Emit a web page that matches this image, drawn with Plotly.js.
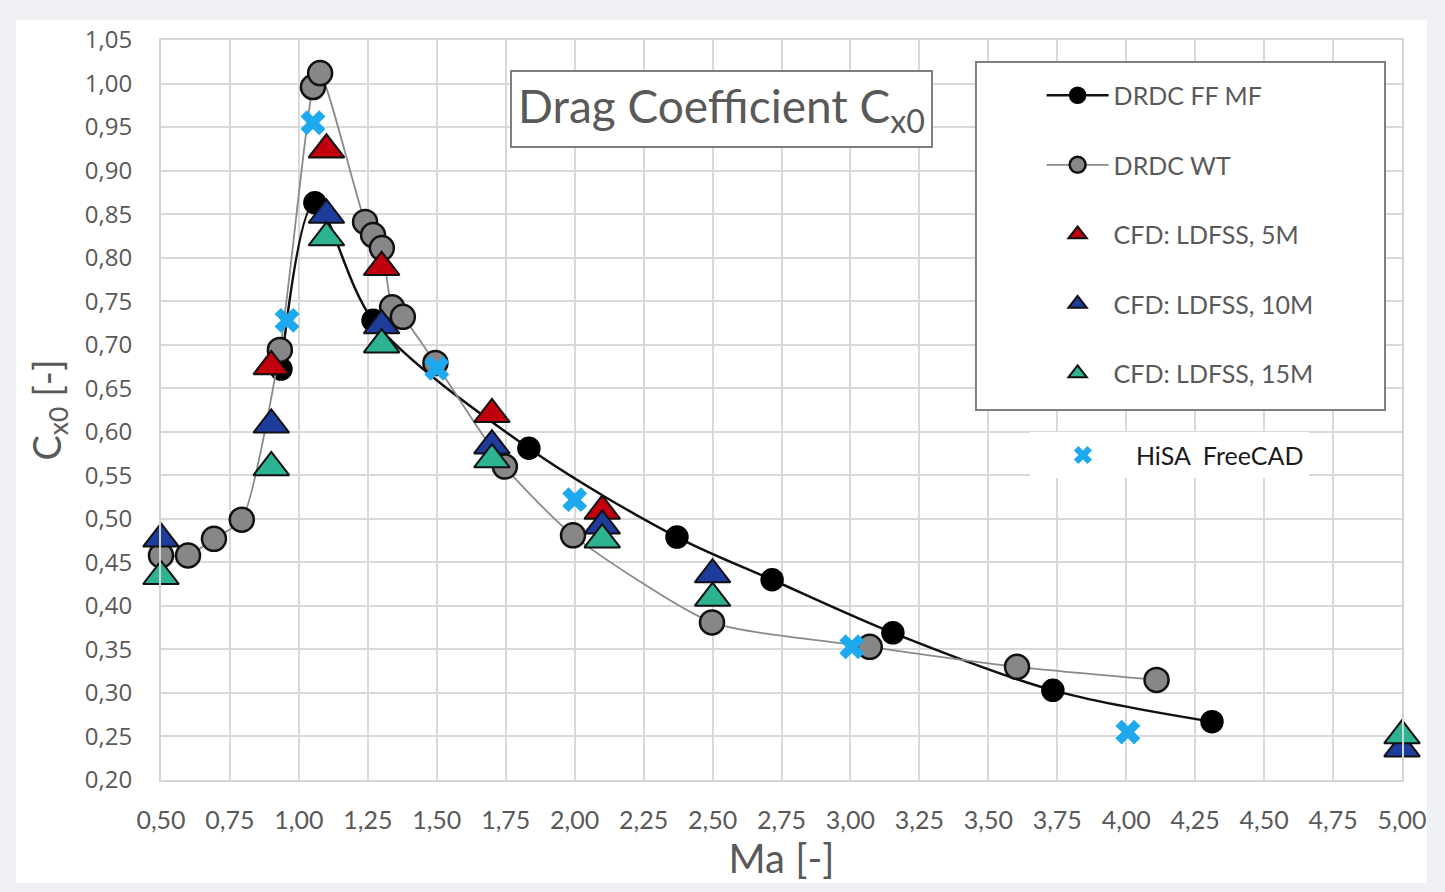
<!DOCTYPE html>
<html>
<head>
<meta charset="utf-8">
<script src="https://cdn.plot.ly/plotly-3.0.1.min.js"></script>
<style>
  html, body { margin: 0; padding: 0; background: #eef0f3; width: 1445px; height: 892px; overflow: hidden; }
  #chart { position: absolute; left: 16px; top: 20px; width: 1411px; height: 863px; background: #fff; }
</style>
</head>
<body>
<div id="chart"></div>
<script>
// ---- data ----
const ffmfMa = [0.935, 1.058, 1.269, 1.834, 2.371, 2.716, 3.154, 3.734, 4.311];
const ffmfCx = [0.672, 0.863, 0.728, 0.581, 0.479, 0.430, 0.369, 0.303, 0.267];

const wtMa = [0.5, 0.598, 0.692, 0.793, 0.931, 1.051, 1.077, 1.240, 1.269, 1.301, 1.338, 1.377, 1.495, 1.747, 1.994, 2.498, 3.070, 3.604, 4.110];
const wtCx = [0.458, 0.458, 0.477, 0.499, 0.694, 0.996, 1.012, 0.841, 0.826, 0.811, 0.743, 0.732, 0.679, 0.560, 0.481, 0.381, 0.353, 0.330, 0.315];

const cfd5Ma = [0.9, 1.1, 1.3, 1.7, 2.1];
const cfd5Cx = [0.675, 0.924, 0.789, 0.620, 0.509];

const cfd10Ma = [0.5, 0.9, 1.1, 1.3, 1.7, 2.1, 2.5, 5.0];
const cfd10Cx = [0.477, 0.608, 0.849, 0.722, 0.584, 0.492, 0.436, 0.236];

const cfd15Ma = [0.5, 0.9, 1.1, 1.3, 1.7, 2.1, 2.5, 5.0];
const cfd15Cx = [0.434, 0.559, 0.823, 0.700, 0.568, 0.476, 0.409, 0.251];

const hisaMa = [0.49, 0.957, 1.051, 1.50, 2.00, 3.005, 4.006];
const hisaCx = [0.642, 0.728, 0.955, 0.673, 0.522, 0.353, 0.255];

const seriesNames = ['DRDC FF MF', 'DRDC WT', 'CFD: LDFSS, 5M', 'CFD: LDFSS, 10M', 'CFD: LDFSS, 15M', 'HiSA  FreeCAD'];

// ---- styling ----
const GREY_TXT = '#595959';
const tri = (color) => ({ symbol: 'triangle-up', size: 31, color: color, line: { color: '#111', width: 2 } });

const traces = [
  { x: ffmfMa, y: ffmfCx, name: seriesNames[0], legendgroup: 'g1', mode: 'lines+markers', cliponaxis: false,
    line: { color: '#111', width: 2.5, shape: 'spline', smoothing: 0.9 },
    marker: { symbol: 'circle', size: 22, color: '#000', line: { color: '#000', width: 1.5 } } },
  { x: wtMa, y: wtCx, name: seriesNames[1], legendgroup: 'g2', mode: 'lines+markers', cliponaxis: false,
    line: { color: '#8a8a8a', width: 1.8, shape: 'spline', smoothing: 0.6 },
    marker: { symbol: 'circle', size: 24, color: '#878787', line: { color: '#111', width: 2.5 } } },
  { x: cfd5Ma, y: cfd5Cx, name: seriesNames[2], legendgroup: 'g3', mode: 'markers', cliponaxis: false, marker: tri('#c0000c') },
  { x: cfd10Ma, y: cfd10Cx, name: seriesNames[3], legendgroup: 'g4', mode: 'markers', cliponaxis: false, marker: tri('#1e3c9c') },
  { x: cfd15Ma, y: cfd15Cx, name: seriesNames[4], legendgroup: 'g5', mode: 'markers', cliponaxis: false, marker: tri('#2db391') },
  { x: hisaMa, y: hisaCx, name: seriesNames[5], legend: 'legend2', mode: 'markers', cliponaxis: false,
    marker: { symbol: 'x', size: 22, color: '#1ea9ef', line: { width: 0 } } }
];

const layout = {
  width: 1411, height: 863,
  margin: { l: 145, r: 25, t: 20, b: 103 },
  paper_bgcolor: '#ffffff', plot_bgcolor: '#ffffff',
  separators: ', ',
  font: { family: 'Lato, sans-serif', color: GREY_TXT },
  xaxis: {
    range: [0.5, 5.0], dtick: 0.25, tick0: 0.5, tickformat: '.2f',
    showgrid: true, gridcolor: '#d9d9d9', gridwidth: 2,
    showline: true, linecolor: '#d4d4d4', linewidth: 2, mirror: true, zeroline: false,
    ticks: 'outside', ticklen: 17, tickcolor: 'rgba(0,0,0,0)',
    tickfont: { family: 'Lato, sans-serif', size: 25, color: GREY_TXT },
    title: { text: 'Ma [-]', font: { family: 'Lato, sans-serif', size: 40, color: GREY_TXT }, standoff: 11 }
  },
  yaxis: {
    range: [0.2, 1.05], dtick: 0.05, tick0: 0.2, tickformat: '.2f',
    showgrid: true, gridcolor: '#d9d9d9', gridwidth: 2,
    showline: true, linecolor: '#d4d4d4', linewidth: 2, mirror: true, zeroline: false,
    ticks: 'outside', ticklen: 22, tickcolor: 'rgba(0,0,0,0)',
    tickfont: { family: '"Open Sans", sans-serif', size: 24, color: GREY_TXT },
    title: { text: 'C<sub>x0</sub> [-]', font: { family: 'Lato, sans-serif', size: 38, color: GREY_TXT }, standoff: 12 }
  },
  legend: {
    x: 0.7096, y: 0.956, xanchor: 'left', yanchor: 'top',
    bgcolor: 'rgba(0,0,0,0)', borderwidth: 0,
    itemwidth: 62, tracegroupgap: 34, traceorder: 'grouped',
    font: { family: 'Lato, sans-serif', size: 25, color: GREY_TXT }
  },
  legend2: {
    x: 0.7002, y: 0.47, xanchor: 'left', yanchor: 'top',
    bgcolor: '#ffffff', borderwidth: 0, itemwidth: 96,
    font: { family: 'Lato, sans-serif', size: 25, color: '#1a1a1a' }
  },
  shapes: [
    { type: 'rect', xref: 'paper', yref: 'paper', x0: 0.6567, x1: 0.9863, y0: 0.5, y1: 0.9703,
      line: { color: '#7f7f7f', width: 2 }, fillcolor: '#ffffff', layer: 'above' }
  ],
  annotations: [
    { xref: 'paper', yref: 'paper', x: 0.4513, y: 0.9068, xanchor: 'center', yanchor: 'middle',
      text: 'Drag Coefficient C<sub>x0</sub>', showarrow: false,
      font: { family: 'Lato, sans-serif', size: 46, color: GREY_TXT },
      bgcolor: '#ffffff', bordercolor: '#7f7f7f', borderwidth: 2, borderpad: 6 }
  ]
};

Plotly.newPlot('chart', traces, layout, { displayModeBar: false, staticPlot: true });
</script>
</body>
</html>
